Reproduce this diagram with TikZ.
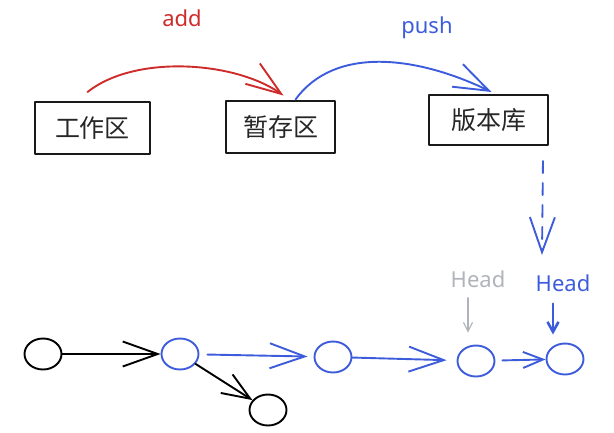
\documentclass[tikz,border=0pt]{standalone}
\usepackage{fontspec}
\setmainfont{Noto Sans}
\newfontfamily\cjk{Noto Sans CJK SC}
\usetikzlibrary{arrows.meta,shapes.geometric}
\definecolor{inkred}{RGB}{206,43,43}
\definecolor{inkblue}{RGB}{61,92,219}
\definecolor{inkgray}{RGB}{176,180,186}
\begin{document}
\begin{tikzpicture}[x=1pt,y=-1pt,line cap=round,line join=round,
	zone/.style={draw=black!90,line width=2pt,minimum height=52pt,text=black!85,font=\cjk\fontsize{25}{25}\selectfont},
	commit/.style={ellipse,line width=1.9pt,minimum width=37pt,minimum height=31pt,inner sep=0pt},
	cmd/.style={inner sep=0pt,font=\fontsize{22}{22}\selectfont},
	longtip/.style={-{Straight Barb[length=35pt,width=25pt]},line width=1.9pt},
	midtip/.style={-{Straight Barb[length=28pt,width=22pt]},line width=1.9pt},
	shorttip/.style={-{Straight Barb[length=20pt,width=16pt]},line width=1.9pt}]
	\useasboundingbox (0,0) rectangle (614,432);
	\node[zone,minimum width=115pt] (work) at (92.5,128) {工作区};
	\node[zone,minimum width=109pt] (stage) at (280.5,126.5) {暂存区};
	\node[zone,minimum width=119pt,minimum height=50pt] (repo) at (488.5,120) {版本库};
	\node[cmd,text=inkred] (add) at (182,18) {add};
	\node[cmd,text=inkblue] (push) at (427,28) {push};
	\draw[longtip,inkred] ([shift={(-5,-9)}]work.north) .. controls +(48,-38) and +(-48,-34) .. ([shift={(3,-4)}]stage.north);
	\draw[longtip,inkblue] ([xshift=15]stage.north) .. controls +(40,-55) and +(-72,-35) .. ([shift={(3,-2)}]repo.north);
	% commits
	\foreach \n/\x/\y/\c in {A/43/354/black,B/180/354/inkblue,C/333/357/inkblue,
		D/268/410/black,E/476/361/inkblue,F/565/359/inkblue}{
		\node[commit,draw=\c] (\n) at (\x,\y) {};
	}
	\draw[longtip] (A) -- (B);
	\draw[midtip] (B) -- (D);
	\draw[longtip,inkblue,shorten <=8pt,shorten >=6pt] (B) -- (C);
	\draw[longtip,inkblue,shorten >=10pt] (C) -- (E);
	\draw[shorttip,inkblue,shorten <=7pt] (E) -- (F);
	% head pointers
	\node[cmd,text=inkgray] (was) at (478,279) {Head};
	\node[cmd,text=inkblue] (now) at (563,283) {Head};
	\coordinate (drop) at (542,255);
	\draw[longtip,inkblue,dash pattern=on 12pt off 10pt] ([shift={(-6,15)}]repo.south east) -- (drop);
	\draw[-{Straight Barb[length=9pt,width=9pt]},inkgray,line width=1.1pt,shorten <=10pt,shorten >=12pt] ([xshift=-10]was.south) -- ([xshift=-8]E.north);
	\draw[-{Straight Barb[length=10pt,width=11pt]},inkblue,line width=2.6pt,shorten <=12pt,shorten >=8pt] ([xshift=-10]now.south) -- ([xshift=-12]F.north);
\end{tikzpicture}
\end{document}
